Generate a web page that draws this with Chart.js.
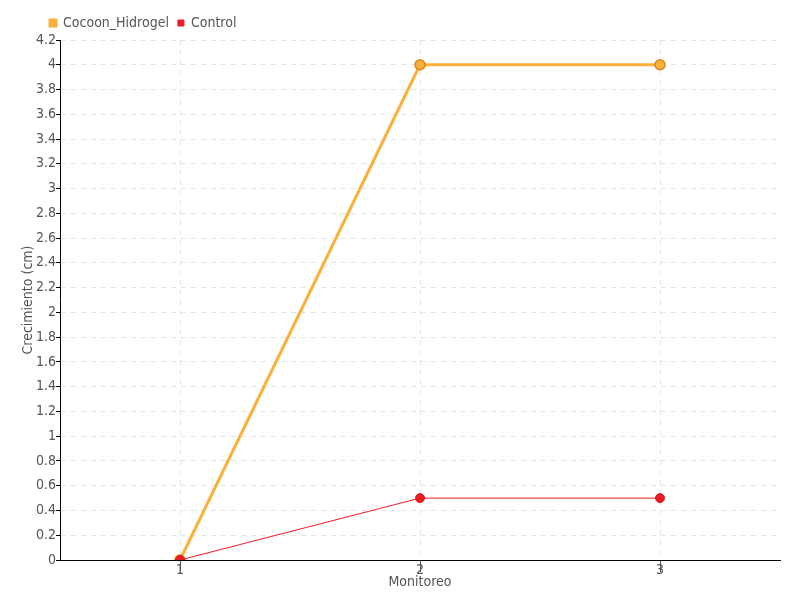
<!DOCTYPE html>
<html>
<head>
<meta charset="utf-8">
<script src="https://cdn.jsdelivr.net/npm/chart.js@4"></script>
<style>
  body { margin: 0; background: #fff; }
  #wrap { width: 800px; height: 600px; }
</style>
</head>
<body>
<div id="wrap"><canvas id="myChart" width="800" height="600"></canvas></div>
<script>
const monitoreos = ['1', '2', '3'];
const cocoonHidrogel = [0, 4, 4];
const control = [0, 0.5, 0.5];

const fuente = '"DejaVu Sans Condensed", "DejaVu Sans", sans-serif';
const gris = '#555555';

// la leyenda del original empieza casi a la altura del eje
const moverLeyenda = {
    id: 'moverLeyenda',
    beforeDraw: function(chart) {
        if (chart.legend) {
            chart.legend.left = 41;
            chart.legend.right = 780;
        }
    }
};

const ctx = document.getElementById('myChart').getContext('2d');

const chart = new Chart(ctx, {
    type: 'line',
    data: {
        labels: monitoreos,
        datasets: [{
            label: 'Cocoon_Hidrogel',
            data: cocoonHidrogel,
            borderColor: '#fbb03b',
            backgroundColor: '#fbb03b',
            borderWidth: 3,
            pointRadius: 5,
            pointBorderWidth: 1.5,
            pointBackgroundColor: '#fbb03b',
            pointBorderColor: '#d68a1e',
            order: 1
        }, {
            label: 'Control',
            data: control,
            borderColor: '#ed1c24',
            backgroundColor: '#ed1c24',
            borderWidth: 1,
            pointRadius: 4.5,
            pointBorderWidth: 1,
            pointBackgroundColor: '#ed1c24',
            pointBorderColor: '#e31a22',
            order: 0
        }]
    },
    options: {
        responsive: false,
        animation: false,
        layout: {
            padding: { left: 0, right: 20, top: 7, bottom: 0 }
        },
        scales: {
            x: {
                offset: true,
                title: {
                    display: true,
                    text: 'Monitoreo',
                    color: gris,
                    font: { family: fuente, size: 14 },
                    padding: { top: -11, bottom: 9 }
                },
                ticks: {
                    color: gris,
                    font: { family: fuente, size: 14 },
                    padding: -10
                },
                grid: {
                    offset: false,
                    color: '#e3e3e3',
                    tickColor: '#555555',
                    tickLength: 12,
                    tickBorderDash: []
                },
                border: { color: '#000000', width: 1, dash: [5, 5] },
                afterFit: function(scale) { scale.height = 40; }
            },
            y: {
                min: 0,
                max: 4.2,
                title: {
                    display: true,
                    text: 'Crecimiento (cm)',
                    color: gris,
                    font: { family: fuente, size: 14 },
                    padding: { top: 20, bottom: 0 }
                },
                ticks: {
                    stepSize: 0.2,
                    color: gris,
                    font: { family: fuente, size: 14 },
                    padding: 0,
                    callback: function(v) { return String(Number(v.toFixed(2))); }
                },
                grid: {
                    color: '#e3e3e3',
                    tickColor: '#000000',
                    tickLength: 4,
                    tickBorderDash: []
                },
                border: { color: '#000000', width: 1, dash: [5, 5] },
                afterFit: function(scale) { scale.width = 60; }
            }
        },
        plugins: {
            legend: {
                align: 'start',
                labels: {
                    color: gris,
                    font: { family: fuente, size: 14 },
                    boxWidth: 6,
                    boxHeight: 6,
                    padding: 9,
                    sort: function(a, b) { return a.datasetIndex - b.datasetIndex; }
                }
            },
            tooltip: { enabled: false }
        }
    },
    plugins: [moverLeyenda]
});
</script>
</body>
</html>
